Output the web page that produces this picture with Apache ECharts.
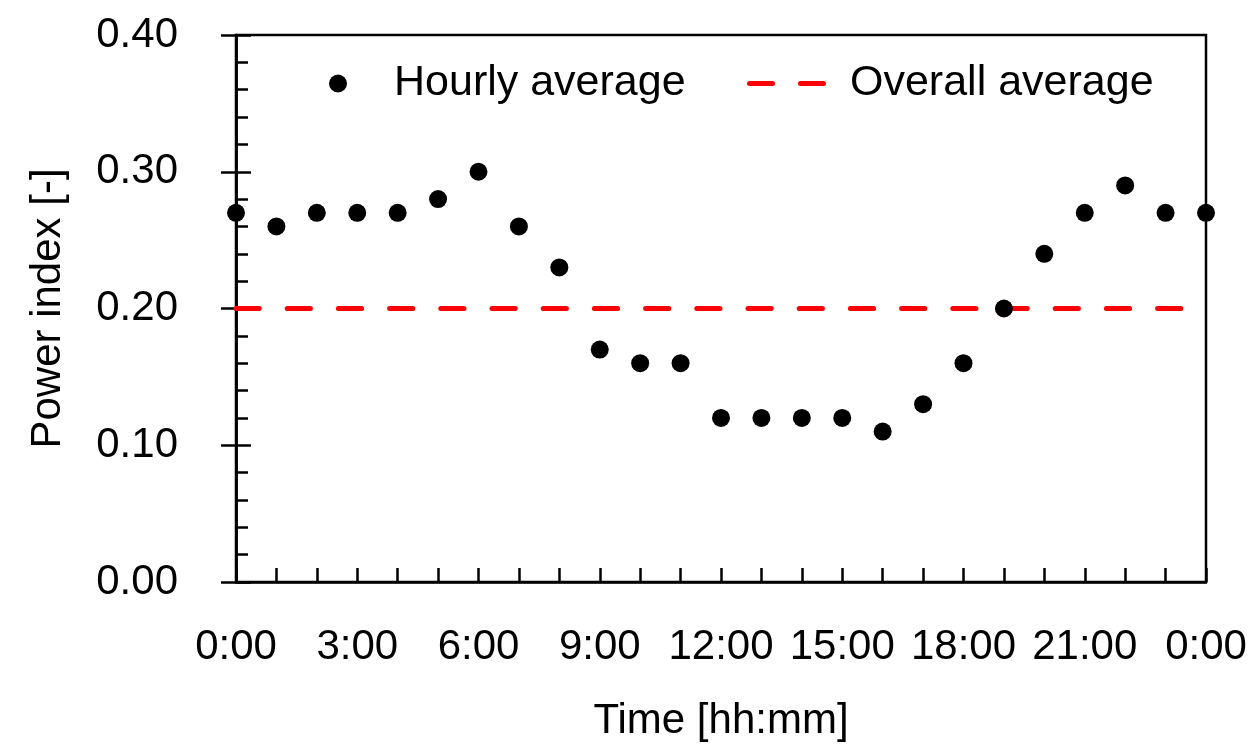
<!DOCTYPE html>
<html>
<head>
<meta charset="utf-8">
<script src="https://cdn.jsdelivr.net/npm/echarts@6/dist/echarts.min.js"></script>
<style>
  html, body { margin: 0; padding: 0; background: #fff; }
  #chart { width: 1254px; height: 744px; }
</style>
</head>
<body>
<div id="chart"></div>
<script>
// ---- data ----
const hours = [0, 1, 2, 3, 4, 5, 6, 7, 8, 9, 10, 11, 12, 13, 14, 15, 16, 17, 18, 19, 20, 21, 22, 23, 24];
const hourlyAverage = [0.27, 0.26, 0.27, 0.27, 0.27, 0.28, 0.30, 0.26, 0.23, 0.17, 0.16, 0.16, 0.12, 0.12, 0.12, 0.12, 0.11, 0.13, 0.16, 0.20, 0.24, 0.27, 0.29, 0.27, 0.27];
const overallAverage = 0.20;
const overallSpan = [0, 24];
const xTickLabels = { 0: '0:00', 3: '3:00', 6: '6:00', 9: '9:00', 12: '12:00', 15: '15:00', 18: '18:00', 21: '21:00', 24: '0:00' };
const yTickLabels = ['0.00', '0.10', '0.20', '0.30', '0.40'];
const seriesNames = ['Hourly average', 'Overall average'];
const axisNames = { x: 'Time [hh:mm]', y: 'Power index [-]' };

// ---- chart ----
const FONT = '"Liberation Sans", Arial, sans-serif';
const FS = 42;
const LFS = 43;
const chart = echarts.init(document.getElementById('chart'), null, { renderer: 'canvas' });

const yLabelFmt = v => yTickLabels[Math.round(v / 0.1)] ?? '';
const dashIcon = 'path://M2.5,0H25.5A2.5,2.5 0 0 1 25.5,5H2.5A2.5,2.5 0 0 1 2.5,0Z' +
                 'M53.5,0H76.5A2.5,2.5 0 0 1 76.5,5H53.5A2.5,2.5 0 0 1 53.5,0Z';

const option = {
  backgroundColor: '#ffffff',
  animation: false,
  textStyle: { fontFamily: FONT },
  grid: {
    left: 236, right: 48, top: 35, bottom: 162,
    containLabel: false,
    outerBoundsMode: 'none',
    show: true, borderColor: '#000', borderWidth: 2.5, backgroundColor: 'transparent'
  },
  legend: [
    {
      data: [{ name: seriesNames[0], icon: 'circle' }],
      left: 324, top: 57,
      itemWidth: 18, itemHeight: 18,
      itemStyle: { color: '#000', opacity: 1 },
      textStyle: { fontSize: LFS, color: '#000', fontFamily: FONT, padding: [0, 0, 0, 42] }
    },
    {
      data: [{ name: seriesNames[1], icon: dashIcon }],
      left: 742, top: 57,
      itemWidth: 79, itemHeight: 5,
      itemStyle: { color: '#ff0000', borderWidth: 0 },
      textStyle: { fontSize: LFS, color: '#000', fontFamily: FONT, padding: [0, 0, 0, 19] }
    }
  ],
  xAxis: {
    type: 'value',
    min: 0, max: 24, interval: 1,
    name: axisNames.x,
    nameLocation: 'middle',
    nameGap: 118,
    nameTextStyle: { fontSize: FS, color: '#000', fontFamily: FONT },
    axisLine: { show: true, lineStyle: { color: '#000', width: 2.5 } },
    axisTick: { show: true, inside: true, length: 14, lineStyle: { color: '#000', width: 2.5 } },
    axisLabel: {
      fontSize: FS, color: '#000', fontFamily: FONT, margin: 44,
      formatter: v => xTickLabels[v] ?? ''
    },
    splitLine: { show: false }
  },
  yAxis: [
    {
      type: 'value',
      min: 0, max: 0.4, interval: 0.1,
      name: axisNames.y,
      nameLocation: 'middle',
      nameGap: 167,
      nameTextStyle: { fontSize: FS, color: '#000', fontFamily: FONT },
      axisLine: { show: true, lineStyle: { color: '#000', width: 2.5 } },
      axisTick: { show: true, inside: true, length: 15, lineStyle: { color: '#000', width: 2.5 } },
      minorTick: { show: true, splitNumber: 5, length: 12, lineStyle: { color: '#000', width: 2.5 } },
      axisLabel: { fontSize: FS, color: '#000', fontFamily: FONT, margin: 58, formatter: yLabelFmt },
      splitLine: { show: false }
    },
    {
      type: 'value',
      position: 'left',
      min: 0, max: 0.4, interval: 0.1,
      axisLine: { show: true, lineStyle: { color: '#000', width: 2.5 } },
      axisTick: { show: true, inside: false, length: 15, lineStyle: { color: '#000', width: 2.5 } },
      axisLabel: { show: false },
      splitLine: { show: false }
    }
  ],
  series: [
    {
      name: seriesNames[0],
      type: 'scatter',
      symbol: 'circle',
      symbolSize: 18,
      clip: false,
      itemStyle: { color: '#000', opacity: 1 },
      data: hours.map((h, i) => [h, hourlyAverage[i]]),
      z: 5
    },
    {
      name: seriesNames[1],
      type: 'line',
      symbol: 'none',
      showSymbol: false,
      lineStyle: { color: '#ff0000', width: 5, type: [23.2, 28], cap: 'round' },
      itemStyle: { color: '#ff0000' },
      data: overallSpan.map(h => [h, overallAverage]),
      z: 3
    }
  ]
};
chart.setOption(option);
</script>
</body>
</html>
